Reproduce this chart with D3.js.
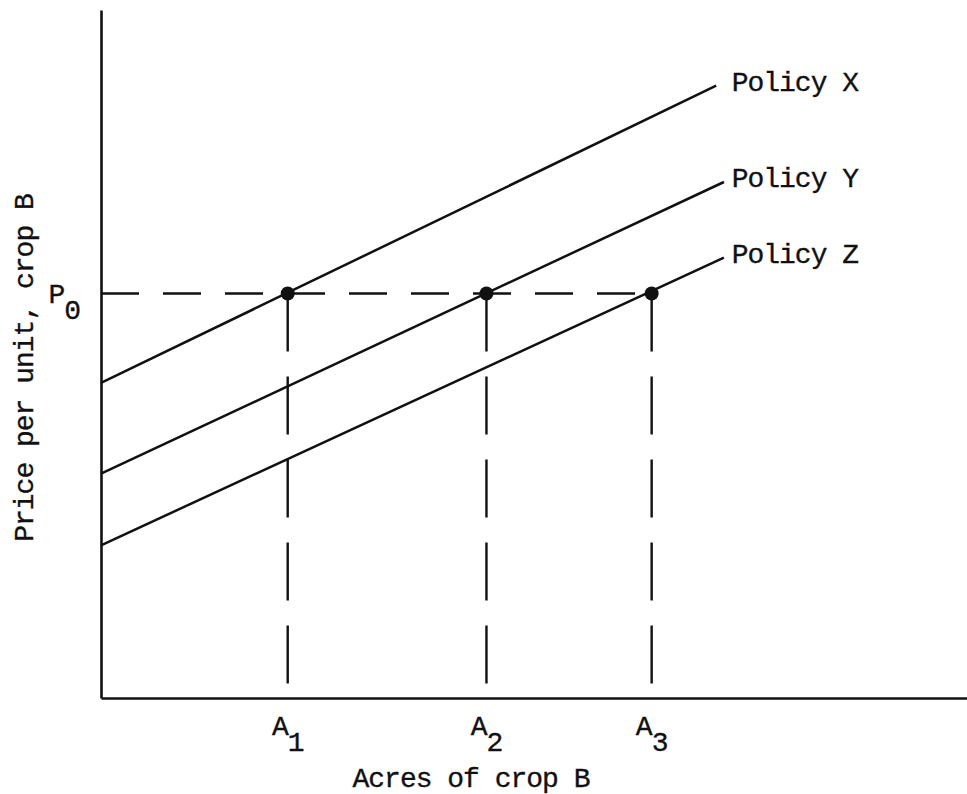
<!DOCTYPE html>
<html lang="en">
<head>
<meta charset="utf-8">
<script src="https://cdn.jsdelivr.net/npm/d3@7"></script>
<style>
  body { margin: 0; background: #fff; }
  text { font-family: "Liberation Mono", "Courier New", monospace; fill: #111; stroke: #111; stroke-width: 0.35px; }
</style>
</head>
<body>
<div id="chart"></div>
<script>
// supply curves for crop B under three policies
const policies = ['Policy X', 'Policy Y', 'Policy Z']
const startPrice = [4.58, 3.26, 2.22]     // price where each curve meets the price axis
const endAcres = [7.15, 7.24, 7.24]
const endPrice = [8.90, 7.50, 6.40]
const acreTicks = ['1', '2', '3']          // subscripts of A
const acreValues = [2.17, 4.48, 6.40]
const priceP0 = 5.88

let w = 967
let h = 794

let xScale = d3.scaleLinear().domain([0, 10.1]).range([101, 970])
let yScale = d3.scaleLinear().domain([0, 10]).range([698, 10])

let svg = d3.select('#chart')
    .append('svg')
    .attr('width', w)
    .attr('height', h)

// axes (bare lines, no ticks)
svg.append('g')
    .attr('class', 'x-axis axis')
    .attr('transform', 'translate(0,' + yScale(0) + ')')
    .call(d3.axisBottom(xScale).tickValues([]).tickSizeOuter(0))
svg.append('g')
    .attr('class', 'y-axis axis')
    .attr('transform', 'translate(' + xScale(0) + ',0)')
    .call(d3.axisLeft(yScale).tickValues([]).tickSizeOuter(0))
svg.selectAll('.axis path')
    .attr('stroke', '#111')
    .attr('stroke-width', 2.6)

let line = d3.line()
    .x(function(d) { return xScale(d[0]) })
    .y(function(d) { return yScale(d[1]) })

// dashed P0 line out to A3
svg.append('path')
    .datum([[0, priceP0], [d3.max(acreValues), priceP0]])
    .attr('d', line)
    .attr('fill', 'none')
    .attr('stroke', '#111')
    .attr('stroke-width', 2.4)
    .attr('stroke-dasharray', '38,24')

// dashed drops from each point to the acres axis
svg.selectAll('.drop')
    .data(acreValues)
    .enter()
    .append('path')
    .attr('class', 'drop')
    .attr('d', function(d) { return line([[d, priceP0], [d, 0]]) })
    .attr('fill', 'none')
    .attr('stroke', '#111')
    .attr('stroke-width', 2.4)
    .attr('stroke-dasharray', '58,25')

// policy curves
svg.selectAll('.policy')
    .data(policies)
    .enter()
    .append('path')
    .attr('class', 'policy')
    .attr('d', function(d, i) { return line([[0, startPrice[i]], [endAcres[i], endPrice[i]]]) })
    .attr('fill', 'none')
    .attr('stroke', '#111')
    .attr('stroke-width', 2.5)

svg.selectAll('.policy-label')
    .data(policies)
    .enter()
    .append('text')
    .attr('class', 'policy-label')
    .attr('x', xScale(7.33))
    .attr('y', function(d, i) { return yScale(endPrice[i]) + 5 })
    .attr('font-size', 28)
    .attr('letter-spacing', -1)
    .text(function(d) { return d })

// equilibrium points
svg.selectAll('.dot')
    .data(acreValues)
    .enter()
    .append('circle')
    .attr('class', 'dot')
    .attr('cx', function(d) { return xScale(d) })
    .attr('cy', yScale(priceP0))
    .attr('r', 7)
    .attr('fill', '#111')

// A1, A2, A3
let aLab = svg.selectAll('.a-label')
    .data(acreTicks)
    .enter()
    .append('text')
    .attr('class', 'a-label')
    .attr('x', function(d, i) { return xScale(acreValues[i]) })
    .attr('y', 735)
    .attr('text-anchor', 'middle')
    .attr('font-size', 28)
    .attr('letter-spacing', -1)
aLab.append('tspan').text('A')
aLab.append('tspan').attr('dy', 16).text(function(d) { return d })

// P0
let pLab = svg.append('text')
    .attr('x', 80)
    .attr('y', yScale(priceP0) + 10)
    .attr('text-anchor', 'end')
    .attr('font-size', 28)
    .attr('letter-spacing', -1)
pLab.append('tspan').text('P')
pLab.append('tspan').attr('dy', 16).text('0')

// axis titles
svg.append('text')
    .attr('x', 471)
    .attr('y', 787)
    .attr('text-anchor', 'middle')
    .attr('font-size', 28)
    .attr('letter-spacing', -1)
    .text('Acres of crop B')
svg.append('text')
    .attr('transform', 'translate(33,368) rotate(-90)')
    .attr('text-anchor', 'middle')
    .attr('font-size', 28)
    .attr('letter-spacing', -1)
    .text('Price per unit, crop B')
</script>
</body>
</html>
